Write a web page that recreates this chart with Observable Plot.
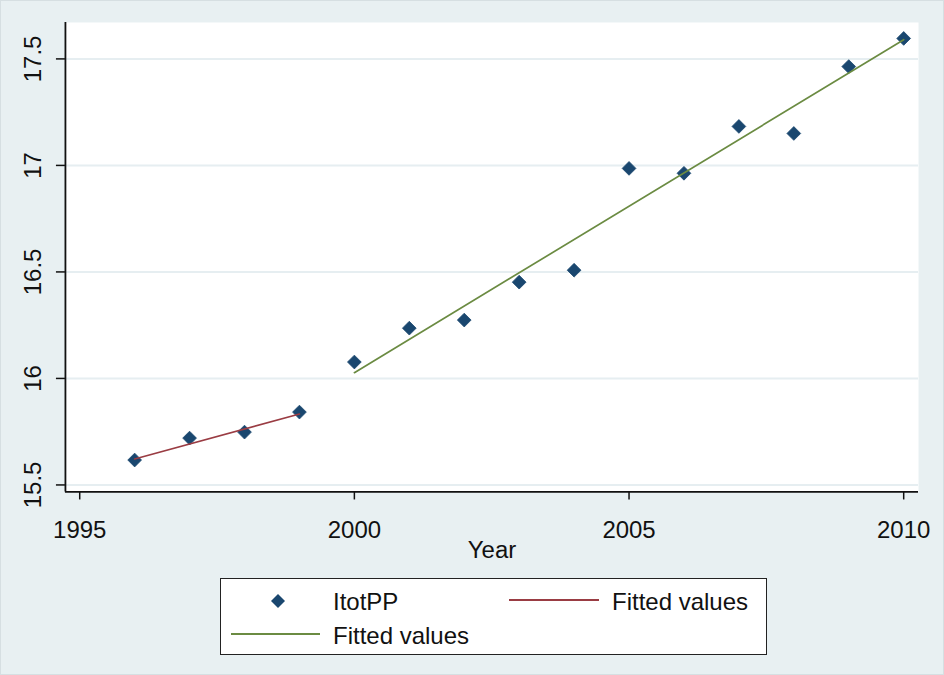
<!DOCTYPE html>
<html>
<head>
<meta charset="utf-8">
<script src="https://cdn.jsdelivr.net/npm/d3@7"></script>
<script src="https://cdn.jsdelivr.net/npm/@observablehq/plot@0.6"></script>
<style>
  html, body { margin: 0; padding: 0; background: #e8f0f2; }
  #wrap { position: relative; width: 944px; height: 675px; background: #e8f0f2; box-sizing: border-box; border: 1px solid #d6dfe2; font-family: "Liberation Sans", Arial, sans-serif; color: #111; overflow: hidden; }
  #chart { position: absolute; left: -1px; top: -1px; }
  #legend { position: absolute; left: 219px; top: 577px; width: 547px; height: 77px; background: #fff; border: 1.5px solid #222; box-sizing: border-box; font-size: 24px; }
  #legend .it { position: absolute; line-height: 24px; white-space: nowrap; }
  #legend svg { position: absolute; overflow: visible; }
</style>
</head>
<body>
<div id="wrap">
  <div id="chart"></div>
  <div id="legend"></div>
</div>
<script>
// ---- data ----
const years = [1996, 1997, 1998, 1999, 2000, 2001, 2002, 2003, 2004, 2005, 2006, 2007, 2008, 2009, 2010];
const itotPP = [15.617, 15.720, 15.748, 15.842, 16.077, 16.236, 16.274, 16.452, 16.508, 16.986, 16.963, 17.183, 17.150, 17.464, 17.596];
const fit1Years = [1996, 1999];
const fit1Values = [15.622, 15.833];
const fit2Years = [2000, 2010];
const fit2Values = [16.027, 17.590];
const xTicks = [1995, 2000, 2005, 2010];
const yTicks = [15.5, 16, 16.5, 17, 17.5];
const xDomain = [1994.74, 2010.27];
const yDomain = [15.467, 17.671];
const xLabel = "Year";
const legendLabels = ["ItotPP", "Fitted values", "Fitted values"];

const navy = "#1a476f", maroon = "#9a3c43", green = "#6b8b42";

const points = years.map((y, i) => ({year: y, v: itotPP[i]}));
const fit1 = fit1Years.map((y, i) => ({year: y, v: fit1Values[i]}));
const fit2 = fit2Years.map((y, i) => ({year: y, v: fit2Values[i]}));

const chart = Plot.plot({
  width: 944,
  height: 570,
  marginLeft: 65,
  marginRight: 25,
  marginTop: 22,
  marginBottom: 78,
  style: {background: "transparent", fontFamily: "'Liberation Sans', Arial, sans-serif", color: "#111"},
  x: {domain: xDomain, ticks: xTicks},
  y: {domain: yDomain, ticks: yTicks},
  marks: [
    Plot.frame({fill: "white", stroke: "none"}),
    Plot.gridY(yTicks, {stroke: "#e6eef1", strokeOpacity: 1, strokeWidth: 2}),
    Plot.axisX({ticks: xTicks, tickSize: 8, tickPadding: 21, tickFormat: d => String(d), fontSize: 24, label: null, strokeWidth: 1.5}),
    Plot.axisY({ticks: yTicks, tickSize: 9, tickFormat: () => "", label: null, strokeWidth: 1.5}),
    Plot.text(yTicks, {frameAnchor: "left", y: d => d, text: d => String(d), rotate: -90, dx: -32, fontSize: 24, textAnchor: "middle", lineAnchor: "middle"}),
    Plot.text([xLabel], {frameAnchor: "bottom", text: d => d, dy: 49, fontSize: 24, lineAnchor: "top"}),
    Plot.ruleX([xDomain[0]], {stroke: "#111", strokeWidth: 1.8}),
    Plot.ruleY([yDomain[0]], {stroke: "#111", strokeWidth: 1.8}),
    Plot.dot(points, {x: "year", y: "v", symbol: "diamond2", r: 6.2, fill: navy, stroke: navy, strokeWidth: 0.8}),
    Plot.line(fit1, {x: "year", y: "v", stroke: maroon, strokeWidth: 1.7}),
    Plot.line(fit2, {x: "year", y: "v", stroke: green, strokeWidth: 1.7})
  ]
});
document.getElementById("chart").appendChild(chart);

// ---- legend ----
const lg = document.getElementById("legend");
function txt(label, left, top) {
  const d = document.createElement("div");
  d.className = "it"; d.textContent = label;
  d.style.left = left + "px"; d.style.top = top + "px";
  lg.appendChild(d);
}
function sw(html, left, top, w, h) {
  const s = document.createElementNS("http://www.w3.org/2000/svg", "svg");
  s.setAttribute("width", w); s.setAttribute("height", h);
  s.style.left = left + "px"; s.style.top = top + "px";
  s.innerHTML = html; lg.appendChild(s);
}
sw(`<path d="M7,0L14,7L7,14L0,7Z" fill="${navy}"/>`, 50, 15, 14, 14);
txt(legendLabels[0], 112, 11);
sw(`<line x1="0" y1="2" x2="90" y2="2" stroke="${maroon}" stroke-width="2"/>`, 288, 19, 90, 4);
txt(legendLabels[1], 391, 11);
sw(`<line x1="0" y1="2" x2="89" y2="2" stroke="${green}" stroke-width="2"/>`, 10, 53, 89, 4);
txt(legendLabels[2], 112, 45);
</script>
</body>
</html>
